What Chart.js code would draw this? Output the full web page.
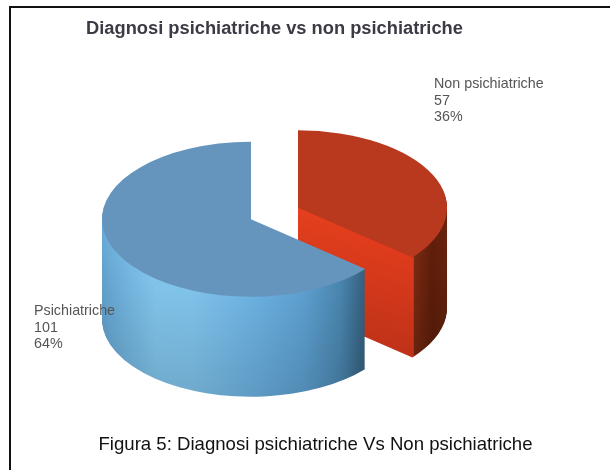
<!DOCTYPE html>
<html>
<head>
<meta charset="utf-8">
<style>html,body{margin:0;padding:0;background:#fff}canvas{display:block}</style>
<script src="https://cdn.jsdelivr.net/npm/chart.js@4"></script>
</head>
<body>
<canvas id="c" width="610" height="470"></canvas>
<script>
const categories = ["Non psichiatriche", "Psichiatriche"];
const values = [57, 101];
const percents = [36, 64];
const topColors = ["#b9391f", "#6595bd"];
const titleText = "Diagnosi psichiatriche vs non psichiatriche";
const captionText = "Figura 5: Diagnosi psichiatriche Vs Non psichiatriche";

const squash = 0.52, depth = 100, centerY = 213.5, explode = 26;
const sideStops = [
  [[0, [239,70,32]], [0.887, [222,58,28]], [0.889, [122,42,18]], [0.95, [96,30,10]], [1, [106,36,14]]],
  [[0, [104,170,216]], [0.18, [130,197,236]], [0.3, [128,194,234]], [0.5, [108,176,223]], [0.68, [92,158,206]], [0.8, [74,134,175]], [0.886, [52,94,124]], [1, [52,94,124]]]
];
const sideFade = [0.86, 0.88];

function sideGradient(ctx, el, i, t) {
  const g = ctx.createLinearGradient(el.x - el.outerRadius, 0, el.x + el.outerRadius, 0);
  const f = 1 - (1 - sideFade[i]) * t;
  sideStops[i].forEach(([p, c]) => g.addColorStop(p, `rgb(${c.map(v => Math.round(v * f)).join(",")})`));
  return g;
}

const pie3d = {
  id: "pie3d",
  beforeDraw(chart) {
    const ctx = chart.ctx;
    ctx.save();
    ctx.fillStyle = "#111";
    ctx.fillRect(9, 6, 601, 2);
    ctx.fillRect(9, 6, 2, 464);
    ctx.restore();
  },
  beforeDatasetsDraw(chart) {
    const ctx = chart.ctx;
    chart.getDatasetMeta(0).data.forEach((el, i) => {
      const base = el.options;
      const mid = (el.startAngle + el.endAngle) / 2;
      const place = d => {
        ctx.translate(Math.cos(mid) * explode, centerY + d + Math.sin(mid) * explode * squash);
        ctx.scale(1, squash);
        ctx.translate(0, -el.y);
      };
      for (let d = depth; d >= 1; d--) {
        ctx.save();
        place(d);
        el.options = Object.create(base, { backgroundColor: { value: sideGradient(ctx, el, i, d / depth) } });
        el.draw(ctx);
        ctx.restore();
      }
      el.options = base;
      ctx.save();
      place(0);
      el.draw(ctx);
      ctx.restore();
    });
    return false;
  },
  afterDraw(chart) {
    const ctx = chart.ctx;
    ctx.save();
    ctx.textBaseline = "alphabetic";
    ctx.fillStyle = "#555";
    ctx.font = '14.3px "Liberation Sans"';
    const anchors = [[434, 88], [34, 315]];
    categories.forEach((name, i) => {
      [name, String(values[i]), percents[i] + "%"].forEach((line, k) => {
        ctx.fillText(line, anchors[i][0], anchors[i][1] + k * 16.7);
      });
    });
    ctx.fillStyle = "#111";
    ctx.font = '18.6px "Liberation Sans"';
    ctx.textAlign = "center";
    ctx.fillText(captionText, 315.5, 450);
    ctx.restore();
  }
};

new Chart(document.getElementById("c"), {
  type: "pie",
  data: {
    labels: categories,
    datasets: [{ data: values, backgroundColor: topColors, borderWidth: 0 }]
  },
  options: {
    responsive: false,
    animation: false,
    radius: 149,
    layout: { padding: { right: 61 } },
    events: [],
    plugins: {
      legend: { display: false },
      tooltip: { enabled: false },
      title: {
        display: true,
        text: titleText,
        color: "#3b3b45",
        font: { family: "Liberation Sans", size: 18.3, weight: "bold" },
        padding: { top: 18, bottom: 10 }
      }
    }
  },
  plugins: [pie3d]
});
</script>
</body>
</html>
